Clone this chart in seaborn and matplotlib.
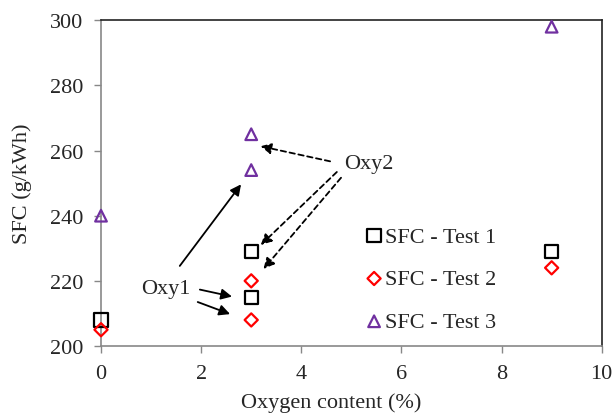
import matplotlib
matplotlib.use("Agg")
import matplotlib.pyplot as plt
import seaborn as sns

# Oxygen content (%) and SFC (g/kWh) readings for each test
oxygen = [0, 3, 3, 9]
sfc_test1 = [208, 229, 215, 229]
sfc_test2 = [205, 220, 208, 224]
sfc_test3 = [240, 254, 265, 298]

series_labels = ["SFC - Test 1", "SFC - Test 2", "SFC - Test 3"]

sns.set_style("white")
plt.rcParams["font.family"] = ["Liberation Serif", "DejaVu Serif"]

fig = plt.figure(figsize=(6.14, 4.14), dpi=100)
ax = fig.add_axes([0.1645, 0.1618, 0.8155, 0.787])

styles = [("s", "black", 90), ("D", "red", 45), ("^", "#7030A0", 70)]
for vals, lab, (mk, col, sz) in zip([sfc_test1, sfc_test2, sfc_test3], series_labels, styles):
    sns.scatterplot(x=oxygen, y=vals, ax=ax, marker=mk, s=sz, facecolor="none",
                    edgecolor=col, linewidth=1.6, label=lab, zorder=3, clip_on=False)

ax.set_xlim(0, 10)
ax.set_ylim(200, 300)
ax.set_xticks(range(0, 11, 2))
ax.set_yticks(range(200, 301, 20))
ax.tick_params(axis="both", labelsize=16, direction="out", length=5, width=1,
               color="#888888", pad=8, bottom=True, left=True)
for side in ["left", "bottom"]:
    ax.spines[side].set_color("#888888")
for side in ["top", "right"]:
    ax.spines[side].set_color("#222222")
for sp in ax.spines.values():
    sp.set_linewidth(1.2)

ax.set_xlabel("Oxygen content (%)", fontsize=16)
ax.set_ylabel("SFC (g/kWh)", fontsize=16)
ax.xaxis.set_label_coords(0.459, -0.143)
ax.yaxis.set_label_coords(-0.138, 0.5)

# annotations
solid = dict(arrowstyle="-|>", color="black", lw=1.3, mutation_scale=16)
dashed = dict(arrowstyle="-|>", color="black", lw=1.3, ls=(0, (3, 2)), mutation_scale=16)
ax.text(1.3, 217.5, "Oxy1", fontsize=16, ha="center", va="center")
ax.annotate("", xy=(2.67, 215), xytext=(1.92, 217.5), arrowprops=solid)
ax.annotate("", xy=(2.63, 209.5), xytext=(1.88, 213.8), arrowprops=solid)
ax.annotate("", xy=(2.83, 250.3), xytext=(1.54, 223.9), arrowprops=solid)

ax.text(4.85, 256, "Oxy2", fontsize=16, ha="left", va="center")
ax.annotate("", xy=(3.13, 261.5), xytext=(4.63, 256.5), arrowprops=dashed)
ax.annotate("", xy=(3.15, 230.4), xytext=(4.75, 254), arrowprops=dashed)
ax.annotate("", xy=(3.21, 223), xytext=(4.83, 252.3), arrowprops=dashed)

ax.legend(loc="center left", bbox_to_anchor=(0.501, 0.2055), frameon=False, fontsize=16,
          handletextpad=0.0, labelspacing=1.0, handlelength=1.0, borderpad=0)

fig.savefig("out.png", dpi=100)
